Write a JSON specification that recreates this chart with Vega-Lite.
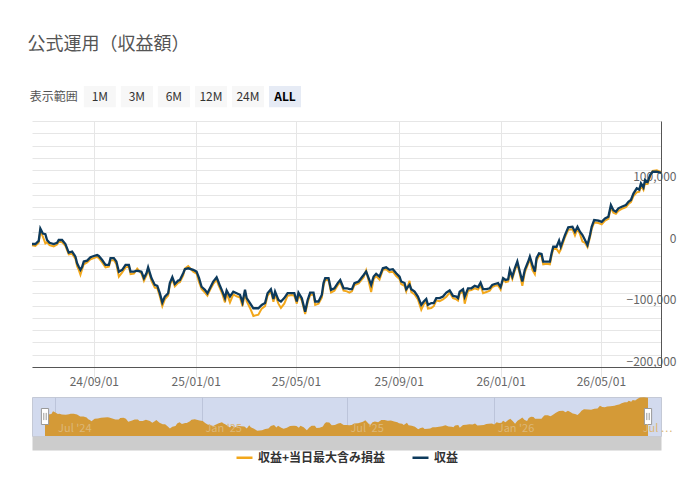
{
  "$schema": "https://vega.github.io/schema/vega-lite/v6.json",
  "padding": {"left": 27, "top": 36, "right": 10, "bottom": 10},
  "title": {
    "text": "公式運用（収益額）",
    "anchor": "start",
    "fontSize": 18,
    "fontWeight": "normal",
    "color": "#555555",
    "offset": 32
  },
  "datasets": {
    "s": [
      {"d": "2024-06-19", "r": 0, "m": -2000},
      {"d": "2024-06-23", "r": 0, "m": -3000},
      {"d": "2024-06-27", "r": 5000, "m": 2000},
      {"d": "2024-06-29", "r": 25000, "m": 21000},
      {"d": "2024-07-02", "r": 17000, "m": 12000},
      {"d": "2024-07-05", "r": 16000, "m": 1000},
      {"d": "2024-07-07", "r": 6500, "m": 3000},
      {"d": "2024-07-10", "r": 2000, "m": -2000},
      {"d": "2024-07-15", "r": 0, "m": -4000},
      {"d": "2024-07-19", "r": 2000, "m": -1000},
      {"d": "2024-07-21", "r": 6500, "m": 3500},
      {"d": "2024-07-25", "r": 6500, "m": 3000},
      {"d": "2024-07-29", "r": 0, "m": -3000},
      {"d": "2024-07-31", "r": -7000, "m": -10000},
      {"d": "2024-08-02", "r": -14000, "m": -17000},
      {"d": "2024-08-06", "r": -12500, "m": -16000},
      {"d": "2024-08-10", "r": -20500, "m": -24000},
      {"d": "2024-08-12", "r": -31500, "m": -36000},
      {"d": "2024-08-14", "r": -37000, "m": -42000},
      {"d": "2024-08-16", "r": -42000, "m": -50000},
      {"d": "2024-08-18", "r": -37000, "m": -41000},
      {"d": "2024-08-20", "r": -28500, "m": -33000},
      {"d": "2024-08-24", "r": -27000, "m": -30000},
      {"d": "2024-08-28", "r": -21500, "m": -25000},
      {"d": "2024-09-01", "r": -19500, "m": -23000},
      {"d": "2024-09-05", "r": -18000, "m": -21000},
      {"d": "2024-09-07", "r": -19500, "m": -23000},
      {"d": "2024-09-11", "r": -26000, "m": -30000},
      {"d": "2024-09-15", "r": -34000, "m": -38000},
      {"d": "2024-09-19", "r": -34000, "m": -37000},
      {"d": "2024-09-21", "r": -23000, "m": -27000},
      {"d": "2024-09-25", "r": -23000, "m": -26000},
      {"d": "2024-09-28", "r": -28500, "m": -33000},
      {"d": "2024-10-01", "r": -45000, "m": -53000},
      {"d": "2024-10-05", "r": -42000, "m": -46000},
      {"d": "2024-10-09", "r": -34000, "m": -38000},
      {"d": "2024-10-13", "r": -34000, "m": -37000},
      {"d": "2024-10-15", "r": -45000, "m": -49000},
      {"d": "2024-10-19", "r": -45000, "m": -48000},
      {"d": "2024-10-23", "r": -43500, "m": -40000},
      {"d": "2024-10-28", "r": -45000, "m": -48000},
      {"d": "2024-10-31", "r": -55500, "m": -60000},
      {"d": "2024-11-03", "r": -47500, "m": -51000},
      {"d": "2024-11-05", "r": -38000, "m": -41000},
      {"d": "2024-11-09", "r": -55500, "m": -60000},
      {"d": "2024-11-13", "r": -66500, "m": -71000},
      {"d": "2024-11-16", "r": -68000, "m": -72000},
      {"d": "2024-11-19", "r": -80000, "m": -85000},
      {"d": "2024-11-22", "r": -95000, "m": -101000},
      {"d": "2024-11-25", "r": -85500, "m": -90000},
      {"d": "2024-11-29", "r": -80000, "m": -84000},
      {"d": "2024-12-01", "r": -63500, "m": -67000},
      {"d": "2024-12-04", "r": -54000, "m": -57000},
      {"d": "2024-12-07", "r": -65000, "m": -69000},
      {"d": "2024-12-11", "r": -59500, "m": -63000},
      {"d": "2024-12-13", "r": -58500, "m": -62000},
      {"d": "2024-12-17", "r": -47500, "m": -51000},
      {"d": "2024-12-19", "r": -41000, "m": -40000},
      {"d": "2024-12-23", "r": -39500, "m": -36000},
      {"d": "2024-12-29", "r": -42000, "m": -45000},
      {"d": "2025-01-02", "r": -45000, "m": -48000},
      {"d": "2025-01-05", "r": -55500, "m": -62000},
      {"d": "2025-01-08", "r": -69500, "m": -73000},
      {"d": "2025-01-12", "r": -74500, "m": -79000},
      {"d": "2025-01-15", "r": -80000, "m": -84000},
      {"d": "2025-01-18", "r": -72000, "m": -75000},
      {"d": "2025-01-22", "r": -61000, "m": -65000},
      {"d": "2025-01-26", "r": -54000, "m": -58000},
      {"d": "2025-01-28", "r": -61000, "m": -66000},
      {"d": "2025-01-30", "r": -68000, "m": -72000},
      {"d": "2025-02-02", "r": -77500, "m": -82000},
      {"d": "2025-02-05", "r": -88000, "m": -95000},
      {"d": "2025-02-07", "r": -75500, "m": -80000},
      {"d": "2025-02-11", "r": -85500, "m": -95000},
      {"d": "2025-02-15", "r": -77500, "m": -82000},
      {"d": "2025-02-19", "r": -80000, "m": -85000},
      {"d": "2025-02-23", "r": -82500, "m": -87000},
      {"d": "2025-02-26", "r": -95000, "m": -101000},
      {"d": "2025-03-01", "r": -74500, "m": -79000},
      {"d": "2025-03-03", "r": -88000, "m": -93000},
      {"d": "2025-03-07", "r": -96000, "m": -104000},
      {"d": "2025-03-11", "r": -104500, "m": -117000},
      {"d": "2025-03-17", "r": -104500, "m": -115000},
      {"d": "2025-03-21", "r": -99000, "m": -105000},
      {"d": "2025-03-25", "r": -96000, "m": -101000},
      {"d": "2025-03-28", "r": -80000, "m": -84000},
      {"d": "2025-04-01", "r": -73500, "m": -77000},
      {"d": "2025-04-04", "r": -89500, "m": -94000},
      {"d": "2025-04-06", "r": -77500, "m": -82000},
      {"d": "2025-04-10", "r": -91000, "m": -97000},
      {"d": "2025-04-13", "r": -93500, "m": -104000},
      {"d": "2025-04-17", "r": -88000, "m": -97000},
      {"d": "2025-04-21", "r": -80000, "m": -84000},
      {"d": "2025-04-26", "r": -80000, "m": -83000},
      {"d": "2025-04-29", "r": -80000, "m": -84000},
      {"d": "2025-05-02", "r": -93500, "m": -97000},
      {"d": "2025-05-04", "r": -79000, "m": -83000},
      {"d": "2025-05-08", "r": -88000, "m": -92000},
      {"d": "2025-05-12", "r": -110000, "m": -114000},
      {"d": "2025-05-15", "r": -91000, "m": -95000},
      {"d": "2025-05-18", "r": -79000, "m": -83000},
      {"d": "2025-05-22", "r": -79000, "m": -82000},
      {"d": "2025-05-24", "r": -93500, "m": -99000},
      {"d": "2025-05-28", "r": -93500, "m": -97000},
      {"d": "2025-06-01", "r": -82500, "m": -87000},
      {"d": "2025-06-03", "r": -63500, "m": -68000},
      {"d": "2025-06-05", "r": -55500, "m": -58000},
      {"d": "2025-06-09", "r": -55500, "m": -59000},
      {"d": "2025-06-12", "r": -74500, "m": -79000},
      {"d": "2025-06-16", "r": -72000, "m": -76000},
      {"d": "2025-06-20", "r": -63500, "m": -67000},
      {"d": "2025-06-23", "r": -58500, "m": -62000},
      {"d": "2025-06-27", "r": -72000, "m": -76000},
      {"d": "2025-07-01", "r": -72000, "m": -77000},
      {"d": "2025-07-04", "r": -73500, "m": -79000},
      {"d": "2025-07-07", "r": -73500, "m": -77000},
      {"d": "2025-07-10", "r": -63500, "m": -67000},
      {"d": "2025-07-15", "r": -61000, "m": -64000},
      {"d": "2025-07-21", "r": -50500, "m": -54000},
      {"d": "2025-07-24", "r": -45000, "m": -43000},
      {"d": "2025-07-27", "r": -55500, "m": -60000},
      {"d": "2025-07-30", "r": -66500, "m": -78000},
      {"d": "2025-08-02", "r": -53000, "m": -57000},
      {"d": "2025-08-05", "r": -48500, "m": -52000},
      {"d": "2025-08-09", "r": -53000, "m": -58000},
      {"d": "2025-08-13", "r": -39500, "m": -42000},
      {"d": "2025-08-17", "r": -38000, "m": -41000},
      {"d": "2025-08-21", "r": -42000, "m": -46000},
      {"d": "2025-08-25", "r": -41000, "m": -45000},
      {"d": "2025-08-29", "r": -47500, "m": -52000},
      {"d": "2025-09-02", "r": -53000, "m": -57000},
      {"d": "2025-09-04", "r": -61000, "m": -65000},
      {"d": "2025-09-08", "r": -63500, "m": -68000},
      {"d": "2025-09-10", "r": -73500, "m": -77000},
      {"d": "2025-09-14", "r": -66500, "m": -60000},
      {"d": "2025-09-16", "r": -73500, "m": -78000},
      {"d": "2025-09-20", "r": -77500, "m": -82000},
      {"d": "2025-09-24", "r": -85500, "m": -90000},
      {"d": "2025-09-28", "r": -99000, "m": -107000},
      {"d": "2025-10-01", "r": -93500, "m": -98000},
      {"d": "2025-10-04", "r": -89500, "m": -94000},
      {"d": "2025-10-06", "r": -99000, "m": -105000},
      {"d": "2025-10-10", "r": -96000, "m": -104000},
      {"d": "2025-10-13", "r": -96000, "m": -101000},
      {"d": "2025-10-16", "r": -88000, "m": -92000},
      {"d": "2025-10-20", "r": -88000, "m": -93000},
      {"d": "2025-10-24", "r": -85500, "m": -90000},
      {"d": "2025-10-28", "r": -79000, "m": -86000},
      {"d": "2025-11-01", "r": -75500, "m": -79000},
      {"d": "2025-11-05", "r": -84500, "m": -88000},
      {"d": "2025-11-09", "r": -85500, "m": -90000},
      {"d": "2025-11-11", "r": -88000, "m": -92000},
      {"d": "2025-11-13", "r": -77500, "m": -81000},
      {"d": "2025-11-17", "r": -73500, "m": -77000},
      {"d": "2025-11-19", "r": -85500, "m": -97000},
      {"d": "2025-11-23", "r": -72000, "m": -76000},
      {"d": "2025-11-27", "r": -72000, "m": -75000},
      {"d": "2025-12-01", "r": -68000, "m": -72000},
      {"d": "2025-12-05", "r": -70000, "m": -74000},
      {"d": "2025-12-08", "r": -63000, "m": -67000},
      {"d": "2025-12-11", "r": -73500, "m": -80000},
      {"d": "2025-12-15", "r": -73500, "m": -78000},
      {"d": "2025-12-19", "r": -72000, "m": -76000},
      {"d": "2025-12-22", "r": -66500, "m": -70000},
      {"d": "2025-12-25", "r": -65000, "m": -68000},
      {"d": "2025-12-29", "r": -63500, "m": -67000},
      {"d": "2026-01-01", "r": -70000, "m": -74000},
      {"d": "2026-01-04", "r": -55500, "m": -57000},
      {"d": "2026-01-07", "r": -58500, "m": -62000},
      {"d": "2026-01-10", "r": -57500, "m": -61000},
      {"d": "2026-01-12", "r": -42000, "m": -46000},
      {"d": "2026-01-15", "r": -53000, "m": -57000},
      {"d": "2026-01-18", "r": -39500, "m": -43000},
      {"d": "2026-01-21", "r": -28500, "m": -32000},
      {"d": "2026-01-24", "r": -45000, "m": -49000},
      {"d": "2026-01-27", "r": -61000, "m": -68000},
      {"d": "2026-01-30", "r": -42000, "m": -46000},
      {"d": "2026-02-03", "r": -28500, "m": -32000},
      {"d": "2026-02-05", "r": -20500, "m": -24000},
      {"d": "2026-02-08", "r": -34000, "m": -42000},
      {"d": "2026-02-11", "r": -45000, "m": -49000},
      {"d": "2026-02-13", "r": -23000, "m": -27000},
      {"d": "2026-02-16", "r": -15000, "m": -19000},
      {"d": "2026-02-19", "r": -16000, "m": -20000},
      {"d": "2026-02-21", "r": -28500, "m": -33000},
      {"d": "2026-02-25", "r": -28500, "m": -32000},
      {"d": "2026-03-01", "r": -28500, "m": -33000},
      {"d": "2026-03-03", "r": -15000, "m": -19000},
      {"d": "2026-03-05", "r": -4500, "m": -8000},
      {"d": "2026-03-09", "r": -4500, "m": -8000},
      {"d": "2026-03-12", "r": 5500, "m": -14000},
      {"d": "2026-03-14", "r": -4500, "m": -9000},
      {"d": "2026-03-19", "r": 14500, "m": 11000},
      {"d": "2026-03-23", "r": 27000, "m": 23000},
      {"d": "2026-03-28", "r": 28000, "m": 24000},
      {"d": "2026-03-31", "r": 20000, "m": 14000},
      {"d": "2026-04-03", "r": 28000, "m": 25000},
      {"d": "2026-04-06", "r": 20000, "m": 16000},
      {"d": "2026-04-09", "r": 14500, "m": 4000},
      {"d": "2026-04-12", "r": 6500, "m": 2000},
      {"d": "2026-04-15", "r": -1500, "m": -5000},
      {"d": "2026-04-18", "r": 14500, "m": 11000},
      {"d": "2026-04-20", "r": 28000, "m": 24000},
      {"d": "2026-04-23", "r": 39000, "m": 35000},
      {"d": "2026-04-28", "r": 38000, "m": 34000},
      {"d": "2026-05-02", "r": 36000, "m": 32000},
      {"d": "2026-05-06", "r": 41500, "m": 38000},
      {"d": "2026-05-10", "r": 44500, "m": 41000},
      {"d": "2026-05-13", "r": 63500, "m": 59000},
      {"d": "2026-05-16", "r": 55000, "m": 51000},
      {"d": "2026-05-19", "r": 52500, "m": 49000},
      {"d": "2026-05-22", "r": 58000, "m": 54000},
      {"d": "2026-05-26", "r": 60500, "m": 57000},
      {"d": "2026-05-31", "r": 63500, "m": 60000},
      {"d": "2026-06-03", "r": 68500, "m": 65000},
      {"d": "2026-06-06", "r": 71500, "m": 68000},
      {"d": "2026-06-09", "r": 82000, "m": 78000},
      {"d": "2026-06-13", "r": 90500, "m": 84000},
      {"d": "2026-06-16", "r": 88500, "m": 85000},
      {"d": "2026-06-18", "r": 98500, "m": 95000},
      {"d": "2026-06-21", "r": 92000, "m": 88000},
      {"d": "2026-06-23", "r": 104000, "m": 100000},
      {"d": "2026-06-26", "r": 101000, "m": 98000},
      {"d": "2026-06-29", "r": 112000, "m": 110000},
      {"d": "2026-07-02", "r": 117500, "m": 119000},
      {"d": "2026-07-07", "r": 117500, "m": 120000},
      {"d": "2026-07-12", "r": 115500, "m": 117000}
    ]
  },
  "spacing": 9,
  "resolve": {"scale": {"x": "independent", "y": "independent"}},
  "vconcat": [
    {
      "width": 269,
      "height": 23,
      "data": {"values": [
        {"b": "表示範囲"}, {"b": "1M"}, {"b": "3M"}, {"b": "6M"}, {"b": "12M"}, {"b": "24M"}, {"b": "ALL"}
      ]},
      "encoding": {
        "x": {
          "field": "b",
          "type": "nominal",
          "scale": {
            "domain": ["表示範囲", "1M", "3M", "6M", "12M", "24M", "ALL"],
            "paddingInner": 0.135,
            "paddingOuter": 0.2,
            "align": 1
          },
          "axis": null
        },
        "y": {
          "datum": "range",
          "type": "nominal",
          "scale": {"paddingInner": 0, "paddingOuter": 0.04, "align": 0},
          "axis": null
        }
      },
      "layer": [
        {
          "transform": [{"filter": "datum.b !== '表示範囲'"}],
          "mark": {"type": "bar"},
          "encoding": {
            "color": {
              "condition": {"test": "datum.b === 'ALL'", "value": "#e6ebf5"},
              "value": "#f7f7f7"
            }
          }
        },
        {
          "transform": [{"filter": "datum.b !== '表示範囲' && datum.b !== 'ALL'"}],
          "mark": {"type": "text", "fontSize": 12, "color": "#333333"},
          "encoding": {"text": {"field": "b"}}
        },
        {
          "transform": [{"filter": "datum.b === 'ALL'"}],
          "mark": {"type": "text", "fontSize": 12, "fontWeight": "bold", "color": "#000000"},
          "encoding": {"text": {"field": "b"}}
        },
        {
          "transform": [{"filter": "datum.b === '表示範囲'"}],
          "mark": {"type": "text", "fontSize": 12, "color": "#555555", "align": "right", "dx": -1},
          "encoding": {
            "x": {"field": "b", "type": "nominal", "bandPosition": 1},
            "text": {"field": "b"}
          }
        }
      ]
    },
    {
      "width": 629,
      "height": 246,
      "data": {"name": "s"},
      "encoding": {
        "x": {
          "field": "d",
          "type": "temporal",
          "scale": {
            "type": "utc",
            "nice": false,
            "domain": [
              {"year": 2024, "month": 6, "date": 19, "utc": true},
              {"year": 2026, "month": 7, "date": 12, "utc": true}
            ]
          },
          "axis": {
            "values": [
              {"year": 2024, "month": 9, "date": 1, "utc": true},
              {"year": 2025, "month": 1, "date": 1, "utc": true},
              {"year": 2025, "month": 5, "date": 1, "utc": true},
              {"year": 2025, "month": 9, "date": 1, "utc": true},
              {"year": 2026, "month": 1, "date": 1, "utc": true},
              {"year": 2026, "month": 5, "date": 1, "utc": true}
            ],
            "tickCount": 30,
            "format": "%y/%m/%d",
            "title": null,
            "grid": true,
            "gridColor": "#e6e6e6",
            "tickSize": 10,
            "tickColor": "#e6e6e6",
            "domainColor": "#555555",
            "labelColor": "#666666",
            "labelFontSize": 12,
            "labelPadding": -1,
            "labelFlush": false
          }
        }
      },
      "layer": [
        {
          "mark": {"type": "line", "strokeWidth": 2},
          "encoding": {
            "y": {
              "field": "m",
              "type": "quantitative",
              "scale": {"domain": [-200000, 200000], "nice": false, "zero": false},
              "axis": {
                "orient": "right",
                "title": null,
                "values": [-200000, -180000, -160000, -140000, -120000, -100000, -80000, -60000, -40000, -20000, 0, 20000, 40000, 60000, 80000, 100000, 120000, 140000, 160000, 180000, 200000],
                "tickCount": 30,
                "labelExpr": "datum.value % 100000 === 0 && datum.value < 200000 ? format(datum.value, ',') : ''",
                "grid": true,
                "gridColor": "#e6e6e6",
                "ticks": false,
                "domainColor": "#555555",
                "labelAlign": "right",
                "labelBaseline": {"condition": {"test": "datum.value === 200000", "value": "top"}, "value": "alphabetic"},
                "labelPadding": 15,
                "labelOffset": -2,
                "labelColor": "#666666",
                "labelFontSize": 12,
                "labelBound": false,
                "labelFlush": false,
                "labelOverlap": false
              }
            },
            "color": {
              "datum": "収益+当日最大含み損益",
              "scale": {
                "domain": ["収益+当日最大含み損益", "収益"],
                "range": ["#f2a71b", "#0d3a5c"]
              },
              "legend": {
                "title": null,
                "orient": "none",
                "direction": "horizontal",
                "legendX": 203,
                "legendY": 362
              }
            }
          }
        },
        {
          "mark": {"type": "line", "strokeWidth": 2.3},
          "encoding": {
            "y": {"field": "r", "type": "quantitative"},
            "color": {"datum": "収益"}
          }
        }
      ]
    },
    {
      "width": 629,
      "height": 39,
      "view": {"fill": "#d2daee", "stroke": "#c4c9d6"},
      "resolve": {"axis": {"x": "independent"}},
      "layer": [
        {
          "data": {"name": "s"},
          "mark": {"type": "area", "color": "#d49a37", "opacity": 1},
          "encoding": {
            "x": {
              "field": "d",
              "type": "temporal",
              "scale": {
                "type": "utc",
                "nice": false,
                "padding": 13,
                "domain": [
                  {"year": 2024, "month": 6, "date": 19, "utc": true},
                  {"year": 2026, "month": 7, "date": 12, "utc": true}
                ]
              },
              "axis": {
                "orient": "bottom",
                "title": null,
                "values": [
                  {"year": 2024, "month": 7, "date": 1, "utc": true},
                  {"year": 2025, "month": 1, "date": 1, "utc": true},
                  {"year": 2025, "month": 7, "date": 1, "utc": true},
                  {"year": 2026, "month": 1, "date": 1, "utc": true}
                ],
                "tickCount": 30,
                "grid": true,
                "gridColor": "#bcc4da",
                "labels": false,
                "ticks": false,
                "domain": false
              }
            },
            "y": {
              "field": "m",
              "type": "quantitative",
              "scale": {"domain": [-155000, 122000], "nice": false, "zero": false},
              "axis": null
            },
            "y2": {"datum": -155000}
          }
        },
        {
          "data": {"values": [{"d": "2024-06-19"}, {"d": "2026-07-12"}]},
          "mark": {
            "type": "point",
            "shape": "M-0.45,-1H0.45V1H-0.45Z M-0.15,-0.45V0.45 M0.15,-0.45V0.45",
            "size": 256,
            "filled": true,
            "fill": "#ffffff",
            "stroke": "#999999",
            "strokeWidth": 1,
            "opacity": 1
          },
          "encoding": {
            "x": {
              "field": "d",
              "type": "temporal",
              "axis": {
                "orient": "bottom",
                "title": null,
                "values": [
                  {"year": 2024, "month": 7, "date": 1, "utc": true},
                  {"year": 2025, "month": 1, "date": 1, "utc": true},
                  {"year": 2025, "month": 7, "date": 1, "utc": true},
                  {"year": 2026, "month": 1, "date": 1, "utc": true},
                  {"year": 2026, "month": 7, "date": 1, "utc": true}
                ],
                "tickCount": 30,
                "labelExpr": "utcyear(datum.value) === 2026 && utcmonth(datum.value) === 6 ? 'Jul …' : utcFormat(datum.value, \"%b '%y\")",
                "grid": false,
                "ticks": false,
                "domain": true,
                "domainColor": "#cccccc",
                "domainWidth": 14,
                "offset": 7,
                "labelAlign": "left",
                "labelBaseline": "alphabetic",
                "labelPadding": -12,
                "labelOffset": 3,
                "labelColor": "#dcb778",
                "labelFontSize": 11,
                "labelBound": false,
                "labelFlush": false,
                "labelOverlap": false,
                "zindex": 1
              }
            },
            "y": {"datum": -16500}
          }
        }
      ]
    }
  ],
  "config": {
    "font": "Noto Sans CJK JP",
    "view": {"stroke": null},
    "legend": {
      "symbolType": "stroke",
      "symbolStrokeWidth": 2.5,
      "symbolSize": 256,
      "labelFontSize": 12,
      "labelFontWeight": "bold",
      "labelColor": "#333333",
      "columnPadding": 21,
      "padding": 0
    }
  }
}
